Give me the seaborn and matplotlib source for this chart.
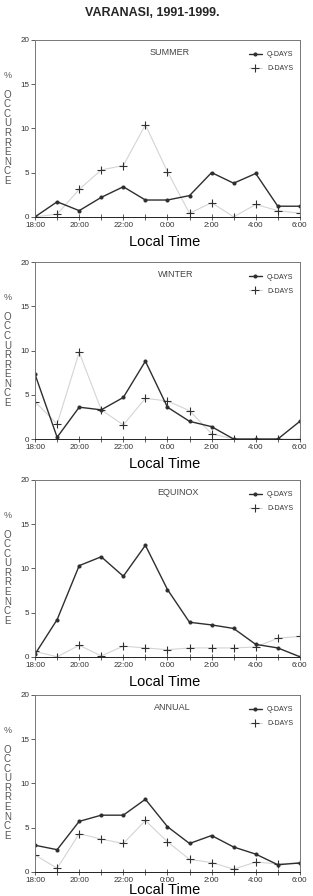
import seaborn as sns
import pandas as pd
import matplotlib.pyplot as plt

sns.set_style("ticks")
plt.rcParams['font.family'] = ['Liberation Sans', 'DejaVu Sans']

# hours after 18:00 local time (18 .. 30 == 6:00 next morning)
hours = list(range(18, 31))
tick_hours = [18, 20, 22, 24, 26, 28, 30]
tick_labels = ["18:00", "20:00", "22:00", "0:00", "2:00", "4:00", "6:00"]

seasons = ["SUMMER", "WINTER", "EQUINOX", "ANNUAL"]

summer_q = [0.0, 1.7, 0.7, 2.2, 3.4, 1.9, 1.9, 2.4, 5.0, 3.8, 4.9, 1.2, 1.2]
summer_d = [0.0, 0.3, 3.1, 5.3, 5.8, 10.4, 5.1, 0.4, 1.6, 0.0, 1.4, 0.7, 0.4]

winter_q = [7.3, 0.2, 3.6, 3.3, 4.7, 8.8, 3.6, 2.0, 1.4, 0.0, 0.0, 0.0, 2.0]
winter_d = [4.2, 1.7, 9.8, 3.3, 1.6, 4.6, 4.3, 3.2, 0.6, 0.0, 0.0, 0.0, 0.0]

equinox_q = [0.3, 4.2, 10.3, 11.3, 9.1, 12.6, 7.6, 3.9, 3.6, 3.2, 1.4, 1.0, 0.0]
equinox_d = [0.6, 0.0, 1.3, 0.1, 1.2, 1.0, 0.8, 1.0, 1.0, 1.0, 1.1, 2.1, 2.3]

annual_q = [3.0, 2.5, 5.7, 6.4, 6.4, 8.2, 5.1, 3.2, 4.1, 2.8, 2.0, 0.8, 1.0]
annual_d = [1.9, 0.4, 4.3, 3.7, 3.2, 5.8, 3.4, 1.4, 1.05, 0.3, 1.1, 0.9, 1.0]

q_series = [summer_q, winter_q, equinox_q, annual_q]
d_series = [summer_d, winter_d, equinox_d, annual_d]

fig = plt.figure(figsize=(3.13, 8.96), dpi=100)
fig.text(0.485, 0.986, "VARANASI, 1991-1999.", ha="center", va="center",
         fontsize=9, fontweight="bold")

bottoms = [0.758, 0.510, 0.267, 0.027]
label_x = [0.51, 0.53, 0.54, 0.52]
xlabel_y = [-0.14, -0.14, -0.14, -0.105]
left, width, height = 0.112, 0.846, 0.1975

for i, season in enumerate(seasons):
    ax = fig.add_axes([left, bottoms[i], width, height])
    df = pd.DataFrame({"hour": hours, "Q": q_series[i], "D": d_series[i]})
    sns.lineplot(data=df, x="hour", y="D", ax=ax, color="#d4d4d4", lw=0.8,
                 marker="+", markersize=6, markeredgecolor="#303030",
                 markeredgewidth=0.8, label="D-DAYS")
    sns.lineplot(data=df, x="hour", y="Q", ax=ax, color="#2e2e2e", lw=1.0,
                 marker="o", markersize=2.2, markeredgecolor="#2e2e2e",
                 label="Q-DAYS")
    ax.set_xlim(18, 30)
    ax.set_ylim(0, 20)
    ax.set_yticks([0, 5, 10, 15, 20])
    ax.set_xticks(hours, minor=True)
    ax.set_xticks(tick_hours)
    ax.set_xticklabels(tick_labels)
    ax.tick_params(axis="x", which="both", direction="inout", length=5,
                   width=0.6, color="#444444", labelsize=5.8, pad=1,
                   labelcolor="#333333")
    ax.tick_params(axis="y", direction="out", length=3, width=0.6,
                   color="#444444", labelsize=5.8, pad=1, labelcolor="#333333")
    for sp in ax.spines.values():
        sp.set_color("#777777")
        sp.set_linewidth(0.7)
    ax.spines["bottom"].set_color("#222222")
    ax.set_xlabel("")
    ax.set_ylabel("")
    ax.text(label_x[i], 0.93, season, transform=ax.transAxes, ha="center",
            va="center", fontsize=6.5, color="#444444")
    h, l = ax.get_legend_handles_labels()
    ax.legend(h[::-1], l[::-1], loc="upper right", bbox_to_anchor=(1.0, 0.97),
              frameon=False, fontsize=5, handlelength=1.8, labelspacing=1.0,
              labelcolor="#333333")
    # stacked y label
    ax.text(-0.105, 0.80, "%", transform=ax.transAxes, ha="center",
            va="center", fontsize=6.5, color="#555555")
    for k, ch in enumerate("OCCURRENCE"):
        ax.text(-0.105, 0.69 - k * 0.054, ch, transform=ax.transAxes,
                ha="center", va="center", fontsize=7, color="#555555")
    ax.text(0.49, xlabel_y[i], "Local Time", transform=ax.transAxes,
            ha="center", va="center", fontsize=10.5, color="black")

fig.savefig("out.png", dpi=100)
